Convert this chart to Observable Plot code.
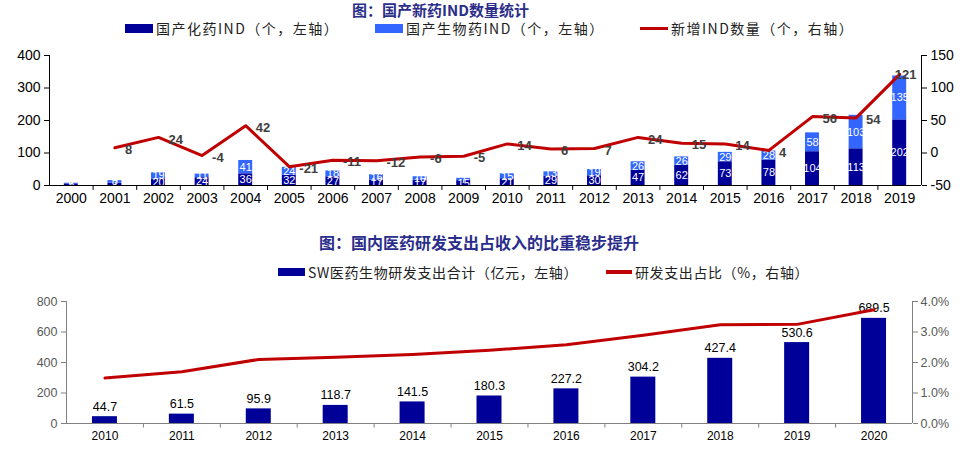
<!DOCTYPE html>
<html><head><meta charset="utf-8">
<script src="https://cdn.jsdelivr.net/npm/d3@7"></script>
<script src="https://cdn.jsdelivr.net/npm/@observablehq/plot@0.6"></script>
<style>
body{margin:0;background:#fff;font-family:"Liberation Sans",Arial,sans-serif;}
#root{position:relative;width:975px;height:451px;overflow:hidden;background:#fff;}
.title{position:absolute;font-family:"Noto Sans CJK SC",sans-serif;font-weight:bold;color:#2B2D8A;white-space:nowrap;line-height:18px;height:18px;}
.leg{position:absolute;display:flex;align-items:center;height:16px;font-family:"Noto Sans CJK SC",sans-serif;font-size:14px;color:#222;white-space:nowrap;line-height:16px;}
.sw{display:inline-block;margin-right:3px;}
.chart{position:absolute;left:0;}
</style></head>
<body>
<div id="root">
  <div class="title" style="left:352px;top:1px;font-size:15px;">图：国产新药IND数量统计</div>
  <div class="leg" style="left:125px;top:20px;letter-spacing:1.5px;"><span class="sw" style="width:28px;height:9px;background:#000099"></span>国产化药IND（个，左轴）</div>
  <div class="leg" style="left:375px;top:20px;letter-spacing:1.5px;"><span class="sw" style="width:28px;height:9px;background:#3366FF"></span>国产生物药IND（个，左轴）</div>
  <div class="leg" style="left:640px;top:20px;letter-spacing:1.5px;"><span class="sw" style="width:28px;height:3px;background:#C00000"></span>新增IND数量（个，右轴）</div>
  <div id="c1" class="chart" style="top:40px;"></div>
  <div class="title" style="left:319px;top:233px;font-size:16px;">图：国内医药研发支出占收入的比重稳步提升</div>
  <div class="leg" style="left:278px;top:264px;letter-spacing:0.6px;"><span class="sw" style="width:27px;height:8px;background:#000099"></span>SW医药生物研发支出合计（亿元，左轴）</div>
  <div class="leg" style="left:606px;top:264px;letter-spacing:0.6px;"><span class="sw" style="width:26px;height:4px;background:#C00000"></span>研发支出占比（%，右轴）</div>
  <div id="c2" class="chart" style="top:285px;"></div>
</div>
<script>
// ---------- Data: chart 1 ----------
const years = ["2000","2001","2002","2003","2004","2005","2006","2007","2008","2009","2010","2011","2012","2013","2014","2015","2016","2017","2018","2019"];
const chemIND = [5,7,20,24,36,32,27,17,17,15,21,29,30,47,62,73,78,104,113,202];
const bioIND  = [2,8,19,11,41,24,18,16,10,7,15,13,19,26,26,29,28,58,103,135];
const newIND  = [null,8,24,-4,42,-21,-11,-12,-6,-5,14,6,7,24,15,14,4,56,54,121];
const leftTicks1 = [0,100,200,300,400];
const rightTicks1 = [-50,0,50,100,150];

// ---------- Data: chart 2 ----------
const years2 = ["2010","2011","2012","2013","2014","2015","2016","2017","2018","2019","2020"];
const rdSpend = [44.7,61.5,95.9,118.7,141.5,180.3,227.2,304.2,427.4,530.6,689.5];
const rdRatio = [1.49,1.70,2.10,2.17,2.26,2.40,2.58,2.89,3.24,3.25,3.73];
const leftTicks2 = [0,200,400,600,800];
const rightTicks2 = [0,1,2,3,4];

const DARK = "#000099", LIGHT = "#3366FF", RED = "#C00000";

// ---------- Chart 1 ----------
{
  const W = 975, H = 175, mt = 15, mb = 30, ml = 49, mr = 54;
  const step = (W - ml - mr) / years.length;
  const toLeft = v => (v + 50) * 2; // right axis [-50,150] -> left [0,400]
  const stack = years.flatMap((y, i) => [
    {year: y, type: "chem", value: chemIND[i]},
    {year: y, type: "bio", value: bioIND[i]}
  ]);
  const line = years.map((y, i) => ({year: y, v: newIND[i]})).filter(d => d.v != null);
  const last = line[line.length - 1];
  const chart = Plot.plot({
    width: W, height: H, marginTop: mt, marginBottom: mb, marginLeft: ml, marginRight: mr,
    style: {fontFamily: "Liberation Sans, Arial, sans-serif", fontSize: "14px", color: "#000", background: "transparent"},
    x: {domain: years, paddingInner: 0.68, paddingOuter: 0.34, round: false, axis: null},
    y: {domain: [0, 400], axis: null},
    color: {domain: ["chem", "bio"], range: [DARK, LIGHT]},
    marks: [
      Plot.barY(stack, {x: "year", y: "value", fill: "type"}),
      Plot.text(stack, Plot.stackY({x: "year", y: "value", z: "type", text: d => String(d.value), fill: "white", fontSize: 11})),
      Plot.line(line, {x: "year", y: d => toLeft(d.v), stroke: RED, strokeWidth: 3}),
      Plot.text(line.slice(0, -1), {x: "year", y: d => toLeft(d.v), text: d => String(d.v), dx: 10, dy: 2, textAnchor: "start", fontWeight: "bold", fill: "#404040", fontSize: 13}),
      Plot.text([last], {x: "year", y: d => toLeft(d.v), text: d => String(d.v), dx: -5, dy: 0, textAnchor: "start", fontWeight: "bold", fill: "#404040", fontSize: 13}),
      Plot.ruleY([0], {stroke: "#000"}),
      Plot.ruleX([years[0]], {dx: -step / 2, y1: 0, y2: 400, stroke: "#000"}),
      Plot.ruleX([years[years.length - 1]], {dx: step / 2, y1: 0, y2: 400, stroke: "#000"}),
      Plot.ruleX(years.slice(1), {x: d => d, dx: -step / 2, y1: 0, y2: -15, stroke: "#000"}),
      Plot.axisX({tickSize: 0, tickPadding: 8, label: null, fontSize: 14}),
      Plot.axisY(leftTicks1, {anchor: "left", tickSize: 5, tickPadding: 4, label: null, fontSize: 14}),
      Plot.axisY(rightTicks1.map(toLeft), {anchor: "right", tickFormat: d => String(d / 2 - 50), tickSize: 5, tickPadding: 4, label: null, fontSize: 14})
    ]
  });
  document.getElementById("c1").append(chart);
}

// ---------- Chart 2 ----------
{
  const W = 975, H = 166, mt = 16, mb = 28, ml = 66, mr = 63;
  const step = (W - ml - mr) / years2.length;
  const toLeft = p => p * 200; // right axis [0,4]% -> left [0,800]
  const bars = years2.map((y, i) => ({year: y, v: rdSpend[i]}));
  const line = years2.map((y, i) => ({year: y, r: rdRatio[i]}));
  const chart = Plot.plot({
    width: W, height: H, marginTop: mt, marginBottom: mb, marginLeft: ml, marginRight: mr,
    style: {fontFamily: "Liberation Sans, Arial, sans-serif", fontSize: "12px", color: "#000", background: "transparent"},
    x: {domain: years2, paddingInner: 0.675, paddingOuter: 0.3375, round: false, axis: null},
    y: {domain: [0, 800], axis: null},
    marks: [
      Plot.barY(bars, {x: "year", y: "v", fill: DARK}),
      Plot.text(bars, {x: "year", y: "v", text: d => d.v.toFixed(1), dy: -6, lineAnchor: "bottom", fill: "#000", fontSize: 12.5}),
      Plot.line(line, {x: "year", y: d => toLeft(d.r), stroke: RED, strokeWidth: 3}),
      Plot.ruleY([0], {stroke: "#808080"}),
      Plot.ruleX([years2[0]], {dx: -step / 2, y1: 0, y2: 800, stroke: "#808080"}),
      Plot.ruleX([years2[years2.length - 1]], {dx: step / 2, y1: 0, y2: 800, stroke: "#808080"}),
      Plot.ruleX(years2.slice(1), {x: d => d, dx: -step / 2, y1: 0, y2: -30, stroke: "#808080"}),
      Plot.axisX({tickSize: 0, tickPadding: 8, label: null, fontSize: 12}),
      Plot.axisY(leftTicks2, {anchor: "left", tickSize: 5, tickPadding: 4, label: null, fontSize: 12.5, stroke: "#808080", fill: "#595959"}),
      Plot.axisY(rightTicks2.map(toLeft), {anchor: "right", tickFormat: d => (d / 200).toFixed(1) + "%", tickSize: 5, tickPadding: 3, label: null, fontSize: 12.5, stroke: "#808080", fill: "#595959"})
    ]
  });
  document.getElementById("c2").append(chart);
}
</script>
</body></html>
